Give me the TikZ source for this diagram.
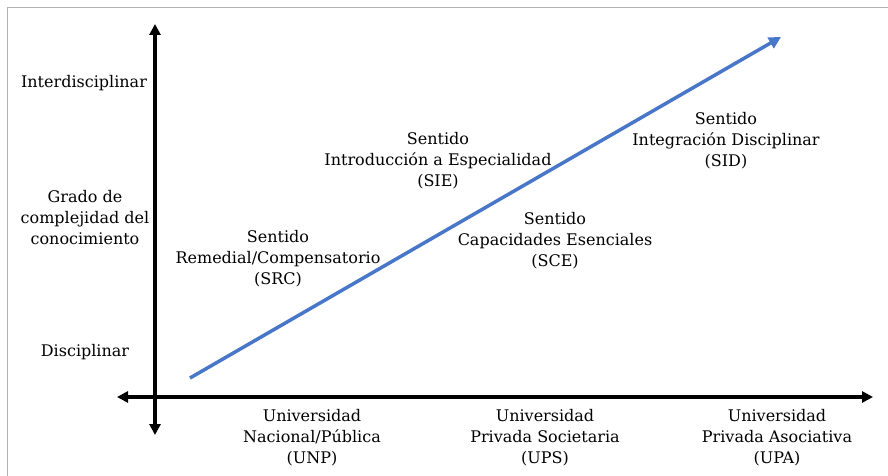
\documentclass[tikz,border=0pt]{standalone}
\usepackage{fontspec}
\setmainfont{DejaVu Serif}
\usetikzlibrary{arrows.meta}
\definecolor{officeblue}{RGB}{72,118,200}
\tikzset{
  axis/.style={line width=3.5pt,{Triangle[length=11pt,width=11pt]}-{Triangle[length=11pt,width=11pt]}},
  trend/.style={line width=3.5pt,color=officeblue,-{Triangle[length=12pt,width=12pt]}},
  lbl/.style={align=center,font=\fontsize{16}{21}\selectfont,inner sep=0pt}
}
\begin{document}
\begin{tikzpicture}[x=1pt,y=-1pt]
\useasboundingbox (0,0) rectangle (888,476);
\draw [gray!60,line width=1pt] (7,480) -- (7,8) -- (892,8);
\coordinate (Ytop) at (155,24);
\coordinate (Ybot) at (155,435);
\coordinate (Xleft) at (117,397);
\coordinate (Xright) at (873,397);
\coordinate (T0) at (190,378);
\coordinate (T1) at (781,37);
\draw [axis] (Ybot) -- (Ytop);
\draw [axis] (Xleft) -- (Xright);
\draw [trend] (T0) -- (T1);
% vertical axis labels
\node [lbl] (inter) at (84,83) {Interdisciplinar};
\node [lbl] (grado) at (85,218) {Grado de\\complejidad del\\conocimiento};
\node [lbl] (disc) at (85,352) {Disciplinar};
% sentidos
\node [lbl] (src) at (278,259) {Sentido\\Remedial/Compensatorio\\(SRC)};
\node [lbl] (sie) at (438,161) {Sentido\\Introducción a Especialidad\\(SIE)};
\node [lbl] (sce) at (555,241) {Sentido\\Capacidades Esenciales\\(SCE)};
\node [lbl] (sid) at (726,141) {Sentido\\Integración Disciplinar\\(SID)};
% universidades
\node [lbl] (unp) at (312,438) {Universidad\\Nacional/Pública\\(UNP)};
\node [lbl] (ups) at (545,438) {Universidad\\Privada Societaria\\(UPS)};
\node [lbl] (upa) at (777,438) {Universidad\\Privada Asociativa\\(UPA)};
\end{tikzpicture}
\end{document}
